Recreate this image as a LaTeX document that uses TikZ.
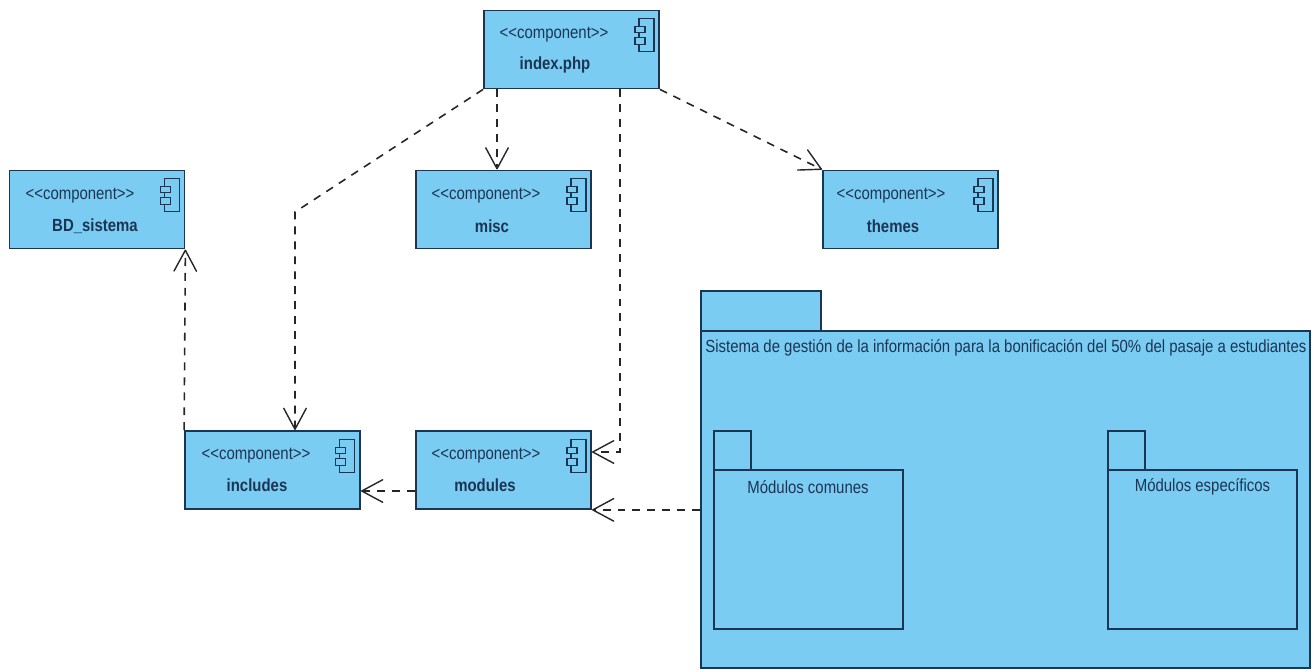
\documentclass[tikz,border=0pt]{standalone}
\usepackage{fontspec}
\setmainfont{Liberation Sans}[FakeStretch=0.85]
\usepackage{xcolor}
\definecolor{umlblue}{HTML}{7ACCF3}
\definecolor{umlline}{HTML}{1C3553}
\pgfarrowsdeclare{openv}{openv}{\pgfarrowsleftextend{-1pt}\pgfarrowsrightextend{0.5pt}}{%
    \pgfsetdash{}{0pt}\pgfsetroundcap\pgfsetroundjoin\pgfsetlinewidth{0.8pt}%
    \pgfpathmoveto{\pgfpoint{-11.9pt}{6.4pt}}%
    \pgfpathlineto{\pgfpointorigin}%
    \pgfpathlineto{\pgfpoint{-11.9pt}{-6.4pt}}%
    \pgfusepathqstroke}
\newcommand{\stereotype}{<{}<component>{}>}
\newcommand{\compicon}[1]{%
    \draw[iconpart] ([shift={(-0.42,-0.18)}]#1.north east) rectangle ([shift={(-0.12,-0.84)}]#1.north east);
    \draw[iconpart] ([shift={(-0.50,-0.34)}]#1.north east) rectangle ([shift={(-0.30,-0.46)}]#1.north east);
    \draw[iconpart] ([shift={(-0.50,-0.56)}]#1.north east) rectangle ([shift={(-0.30,-0.70)}]#1.north east);
}

\begin{document}
\begin{tikzpicture}[
        component/.style={rectangle, draw=umlline, line width=1pt, fill=umlblue, minimum width=3.5cm, minimum height=1.56cm, inner sep=0pt},
        package/.style={rectangle, draw=umlline, line width=1pt, fill=umlblue, inner sep=0pt},
        iconpart/.style={draw=umlline, line width=0.7pt, fill=umlblue},
        stereo/.style={text=umlline, font=\fontsize{10}{12}\selectfont, inner sep=0pt, yshift=-0.05cm},
        compname/.style={text=umlline, font=\fontsize{10}{12}\selectfont\bfseries, inner sep=0pt, yshift=-0.04cm},
        pkgname/.style={text=umlline, font=\fontsize{10}{12}\selectfont, inner sep=0pt},
        dep/.style={draw=black!85, line width=0.9pt, dash pattern=on 4.5pt off 4pt, -openv}
    ]
        \useasboundingbox (0,0) rectangle (26.3,-13.42);

        % components
        \node[component] (index) at (11.43,-0.99) {};
        \node[stereo] (index-st) at (11.08,-0.64) {\stereotype};
        \node[compname] (index-nm) at (11.10,-1.26) {index.php};
        \compicon{index}

        \node[component] (bd) at (1.94,-4.19) {};
        \node[stereo] (bd-st) at (1.60,-3.86) {\stereotype};
        \node[compname] (bd-nm) at (1.90,-4.48) {BD\_sistema};
        \compicon{bd}

        \node[component] (misc) at (10.07,-4.19) {};
        \node[stereo] (misc-st) at (9.72,-3.86) {\stereotype};
        \node[compname] (misc-nm) at (9.84,-4.48) {misc};
        \compicon{misc}

        \node[component] (themes) at (18.21,-4.19) {};
        \node[stereo] (themes-st) at (17.82,-3.86) {\stereotype};
        \node[compname] (themes-nm) at (17.86,-4.48) {themes};
        \compicon{themes}

        \node[component] (includes) at (5.45,-9.40) {};
        \node[stereo] (includes-st) at (5.12,-9.06) {\stereotype};
        \node[compname] (includes-nm) at (5.14,-9.66) {includes};
        \compicon{includes}

        \node[component] (modules) at (10.07,-9.40) {};
        \node[stereo] (modules-st) at (9.72,-9.06) {\stereotype};
        \node[compname] (modules-nm) at (9.70,-9.66) {modules};
        \compicon{modules}

        % packages
        \node[package, minimum width=2.4cm, minimum height=0.8cm] (sys-tab) at (15.22,-6.22) {};
        \node[package, minimum width=12.18cm, minimum height=6.74cm] (sys) at (20.11,-9.99) {};
        \node[pkgname, anchor=west] (sys-nm) at (14.10,-6.96) {Sistema de gestión de la información para la bonificación del 50\% del pasaje a estudiantes};

        \node[package, minimum width=0.74cm, minimum height=0.78cm] (com-tab) at (14.65,-9.01) {};
        \node[package, minimum width=3.78cm, minimum height=3.18cm] (com) at (16.17,-10.99) {};
        \node[pkgname] (com-nm) at (16.16,-9.74) {Módulos comunes};

        \node[package, minimum width=0.74cm, minimum height=0.78cm] (esp-tab) at (22.53,-9.01) {};
        \node[package, minimum width=3.78cm, minimum height=3.18cm] (esp) at (24.05,-10.99) {};
        \node[pkgname] (esp-nm) at (24.05,-9.74) {Módulos específicos};

        % bends
        \coordinate (bend-inc) at (5.90,-4.24);
        \coordinate (bend-mod) at (12.40,-9.04);

        % dependencies
        \draw[dep] (index.south west) -- (bend-inc) -- (bend-inc |- includes.north);
        \draw[dep] ([xshift=-0.13cm]misc.north |- index.south) -- ([xshift=-0.13cm]misc.north);
        \draw[dep] (bend-mod |- index.south) -- (bend-mod) -- (bend-mod -| modules.east);
        \draw[dep] (index.south east) -- (themes.north west);
        \draw[dep] (includes.north west) -- (bd.south east);
        \draw[dep] ([yshift=-0.42cm]modules.west) -- ([yshift=-0.42cm]includes.east);
        \draw[dep] (modules.south east -| sys.west) -- (modules.south east);
    \end{tikzpicture}
\end{document}
